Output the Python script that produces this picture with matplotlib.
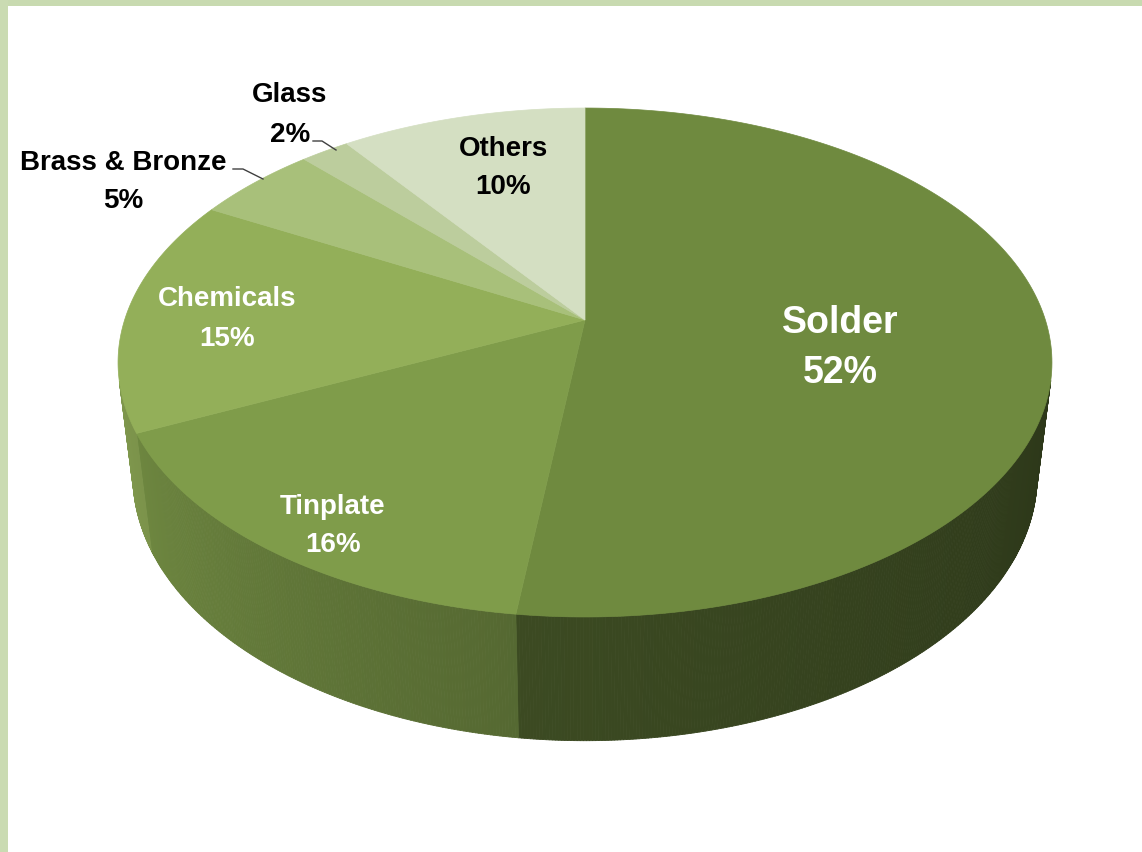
import numpy as np
import matplotlib
matplotlib.use("Agg")
import matplotlib.pyplot as plt
from matplotlib.collections import PolyCollection
from matplotlib.patches import Polygon, Rectangle

# data (clockwise from 12 o'clock)
labels = ["Solder", "Tinplate", "Chemicals", "Brass & Bronze", "Glass", "Others"]
shares = [52, 16, 15, 5, 2, 10]

# style
top_colors = ["#6F8A3F", "#7F9C4A", "#93AF59", "#A8C07A", "#BCCD9D", "#D4DFC2"]
# shade of the side wall at the slice start / end (start is the right-hand end on the front)
side_shade = [(0.40, 0.54), (0.67, 0.86), (0.84, 0.86), (0.85, 0.85), (0.85, 0.85), (0.85, 0.85)]
text_colors = ["white", "white", "white", "black", "black", "black"]
font_sizes = [27, 20, 20, 20, 20, 20]
line_sp = [1.5, 1.65, 1.65, 1.65, 1.65, 1.65]
label_xy = [(840, 348), (333, 526), (227, 319), (123, 182), (290, 115), (503, 168)]

W, H = 1142, 852
# perspective camera, in units of pie radius
CX, CY = 585, 320
F = 2325.0
D = 5.05
PHI = np.radians(32.5)
S, C = np.sin(PHI), np.cos(PHI)
DEPTH = 0.30


def project(theta, y=0.0, r=1.0):
    u = r * np.cos(theta)
    v = -r * np.sin(theta)  # towards the viewer
    d = D - y * S - v * C
    up = y * C - v * S
    return CX + F * u / d, CY - F * up / d


fig = plt.figure(figsize=(W / 100, H / 100), dpi=100)
ax = fig.add_axes([0, 0, 1, 1])
ax.set_xlim(0, W)
ax.set_ylim(H, 0)
ax.axis("off")

# light green frame on top and left
ax.add_patch(Rectangle((0, 0), W, 6, color="#C8DAB0", lw=0, zorder=0))
ax.add_patch(Rectangle((0, 0), 8, H, color="#CADBB2", lw=0, zorder=0))

fracs = np.array(shares, dtype=float) / sum(shares)
starts = np.pi / 2 - 2 * np.pi * np.concatenate([[0], np.cumsum(fracs)[:-1]])
ends = starts - 2 * np.pi * fracs

# side walls (only the faces turned to the camera)
v_min = 1.0 / (D * C)
for i in range(len(shares)):
    th = np.linspace(starts[i], ends[i], max(int(np.degrees(starts[i] - ends[i]) * 3), 2))
    vis = -np.sin(th) > v_min
    if vis.sum() < 2:
        continue
    tv = th[vis]
    base = np.array(matplotlib.colors.to_rgb(top_colors[i]))
    a, b = side_shade[i]
    quads, cols = [], []
    for k in range(len(tv) - 1):
        x0, y0 = project(tv[k])
        x1, y1 = project(tv[k + 1])
        x2, y2 = project(tv[k + 1], -DEPTH)
        x3, y3 = project(tv[k], -DEPTH)
        quads.append([(x0, y0), (x1, y1), (x2, y2), (x3, y3)])
        t = k / max(len(tv) - 2, 1)
        cols.append(np.clip(base * (a + (b - a) * t), 0, 1))
    pc = PolyCollection(quads, facecolors=cols, edgecolors=cols, linewidths=0.6, zorder=2)
    ax.add_collection(pc)

# top faces
for i in range(len(shares)):
    th = np.linspace(starts[i], ends[i], 200)
    xs, ys = project(th)
    pts = [(CX, CY)] + list(zip(xs, ys))
    ax.add_patch(Polygon(pts, closed=True, facecolor=top_colors[i],
                         edgecolor=top_colors[i], lw=0.5, zorder=3))

# labels
for i in range(len(shares)):
    ax.text(label_xy[i][0], label_xy[i][1], f"{labels[i]}\n{shares[i]}%",
            ha="center", va="center", color=text_colors[i], fontsize=font_sizes[i],
            fontweight="bold", family="Liberation Sans", linespacing=line_sp[i], zorder=5)

# leader lines for the thin slices
ax.plot([313, 322, 336], [141, 141, 150], color="#404040", lw=1.0, zorder=5)
ax.plot([233, 243, 263], [169, 169, 179], color="#404040", lw=1.0, zorder=5)

fig.savefig("out.png", dpi=100, facecolor="white")
